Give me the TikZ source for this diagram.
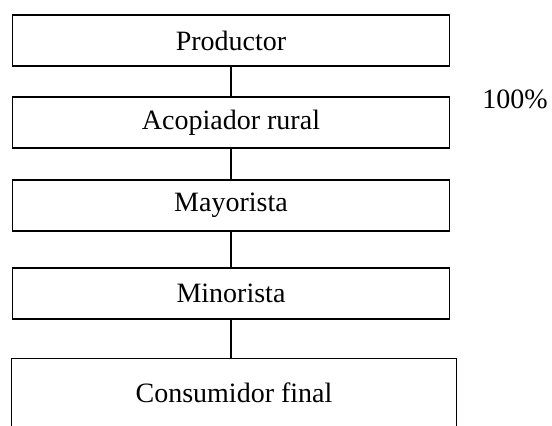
\documentclass[tikz,border=0pt]{standalone}
\usepackage{fontspec}
\setmainfont{Liberation Serif}
\usetikzlibrary{positioning}

\begin{document}
\begin{tikzpicture}[x=1pt, y=-1pt, on grid, font=\fontsize{28}{30}\selectfont,
    box/.style = {draw, line width=1.3pt, minimum width=437pt, minimum height=51pt, inner sep=0pt},
    link/.style = {line width=1.3pt}]
		\useasboundingbox (0,0) rectangle (552,426);
		\node (prod) [box] at (231,40.5) {Productor};
		\node (acop) [box, below = 82pt of prod] {Acopiador rural};
		\node (mayor) [box, below = 83pt of acop] {Mayorista};
		\node (minor) [box, below = 88pt of mayor] {Minorista};
		\node (cons) [minimum width=444pt, minimum height=67pt, inner sep=0pt, below = 99pt of minor, xshift=3pt] {Consumidor final};
		\node (pct) at (515,99) {100\%};
		% open box at the bottom
		\draw[link] (cons.south west) -- (cons.north west) -- (cons.north east) -- (cons.south east);
		\path[link]
		(prod) edge (acop)
		(acop) edge (mayor)
		(mayor) edge (minor);
		\draw[link] (minor.south) -- (minor.south |- cons.north);
		\end{tikzpicture}
\end{document}
